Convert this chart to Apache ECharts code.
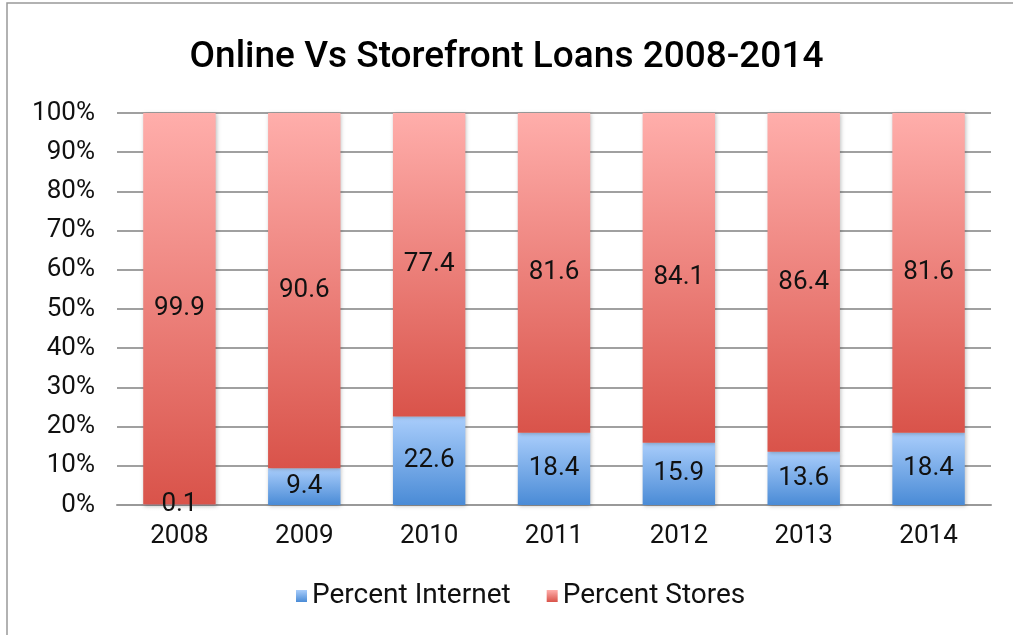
<!DOCTYPE html>
<html>
<head>
<meta charset="utf-8">
<script src="https://cdn.jsdelivr.net/npm/echarts@6/dist/echarts.min.js"></script>
<style>
  html, body { margin: 0; padding: 0; background: #fff; }
  #main { width: 1013px; height: 635px; }
</style>
</head>
<body>
<div id="main"></div>
<script>
// data
const years = ['2008', '2009', '2010', '2011', '2012', '2013', '2014'];
const percentInternet = [0.1, 9.4, 22.6, 18.4, 15.9, 13.6, 18.4];
const percentStores = [99.9, 90.6, 77.4, 81.6, 84.1, 86.4, 81.6];

const font = 'Roboto, "Open Sans", sans-serif';

const grad = (top, bottom) =>
  new echarts.graphic.LinearGradient(0, 0, 0, 1, [
    { offset: 0, color: top },
    { offset: 1, color: bottom },
  ]);

const blueFill = grad('#a9cdfb', '#4a8bd6');
const redFill = grad('#ffaeab', '#d9534a');

const labelStyle = {
  show: true,
  position: 'inside',
  color: '#111',
  fontSize: 26,
  fontFamily: font,
  formatter: (p) => p.value.toFixed(1),
};

const myChart = echarts.init(document.getElementById('main'));

const option = {
  backgroundColor: '#fff',
  animation: false,
  graphic: [
    {
      type: 'rect',
      shape: { x: 7, y: 3, width: 1030, height: 660 },
      style: { fill: 'none', stroke: '#999', lineWidth: 1.5 },
      silent: true,
    },
  ],
  title: {
    text: 'Online Vs Storefront Loans 2008-2014',
    left: 'center',
    top: 34,
    textStyle: {
      fontFamily: font,
      fontSize: 37,
      fontWeight: 500,
      color: '#000',
    },
  },
  legend: {
    data: ['Percent Internet', 'Percent Stores'],
    bottom: 20,
    left: 291,
    icon: 'rect',
    itemWidth: 11,
    itemHeight: 12,
    itemGap: 36,
    textStyle: { fontFamily: font, fontSize: 28, color: '#111' },
  },
  grid: { left: 117, right: 22, top: 113, bottom: 130 },
  xAxis: {
    type: 'category',
    data: years,
    axisTick: { show: false },
    axisLine: { lineStyle: { color: '#999', width: 2 } },
    axisLabel: {
      fontFamily: font,
      fontSize: 26,
      color: '#111',
      margin: 18,
    },
  },
  yAxis: {
    type: 'value',
    min: 0,
    max: 100,
    interval: 10,
    axisLine: { show: false },
    axisTick: { show: false },
    splitLine: { lineStyle: { color: '#a0a0a0', width: 2 } },
    axisLabel: {
      formatter: '{value}%',
      fontFamily: font,
      fontSize: 26,
      color: '#111',
      margin: 22,
    },
  },
  series: [
    {
      name: 'Percent Internet',
      type: 'bar',
      stack: 'total',
      barWidth: '58%',
      data: percentInternet,
      itemStyle: {
        color: blueFill,
        shadowColor: 'rgba(0,0,0,0.25)',
        shadowBlur: 4,
        shadowOffsetX: 1,
        shadowOffsetY: 1,
      },
      label: labelStyle,
    },
    {
      name: 'Percent Stores',
      type: 'bar',
      stack: 'total',
      data: percentStores,
      itemStyle: {
        color: redFill,
        shadowColor: 'rgba(0,0,0,0.25)',
        shadowBlur: 4,
        shadowOffsetX: 1,
        shadowOffsetY: 1,
      },
      label: labelStyle,
    },
  ],
};

myChart.setOption(option);
</script>
</body>
</html>
